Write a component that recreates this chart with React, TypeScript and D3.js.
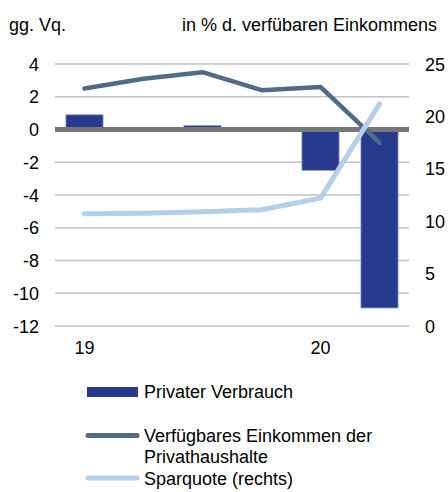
import React from "react";
import * as d3 from "d3";

const quarters = ["Q1 19", "Q2 19", "Q3 19", "Q4 19", "Q1 20", "Q2 20"];
const xLabels = ["19", "", "", "", "20", ""];
const konsum = [0.9, 0, 0.25, 0, -2.5, -10.9];
const einkommen = [2.5, 3.1, 3.5, 2.4, 2.6, -0.8];
const sparquote = [10.7, 10.75, 10.9, 11.1, 12.2, 21.2];
const leftTicks = [4, 2, 0, -2, -4, -6, -8, -10, -12];
const rightTicks = [25, 20, 15, 10, 5, 0];

const W = 448, H = 492;
const font = "'Liberation Sans', Arial, sans-serif";
const FS = 18;

export default function App() {
  const x = d3.scaleBand<string>().domain(quarters).range([55, 409]).paddingInner(0.37).paddingOuter(0.185);
  const yL = d3.scaleLinear().domain([-12, 4]).range([326, 64]);
  const yR = d3.scaleLinear().domain([0, 25]).range([326, 64]);
  const cx = (q: string) => (x(q) as number) + x.bandwidth() / 2;
  const lineL = d3.line<number>().x((_, i) => cx(quarters[i])).y((d) => yL(d));
  const lineR = d3.line<number>().x((_, i) => cx(quarters[i])).y((d) => yR(d));
  return (
    <svg width={W} height={H} style={{ position: "absolute", left: 0, top: 0 }} fontFamily={font}>
      <rect width={W} height={H} fill="#fff" />
      <text x={9} y={31} fontSize={FS} fill="#000">gg. Vq.</text>
      <text x={182} y={31} fontSize={FS} fill="#000">in % d. verfübaren Einkommens</text>
      {leftTicks.map((t) => (
        <g key={"l" + t}>
          {t !== 0 && <line x1={55} x2={409} y1={yL(t)} y2={yL(t)} stroke="#c4c4c4" strokeWidth={1.3} />}
          <text x={39} y={yL(t) + 6.5} fontSize={FS} textAnchor="end">{t}</text>
        </g>
      ))}
      {rightTicks.map((t) => (
        <text key={"r" + t} x={425} y={yR(t) + 6.5} fontSize={FS}>{t}</text>
      ))}
      {quarters.map((q, i) =>
        konsum[i] !== 0 ? (
          <rect key={q} x={x(q)} width={x.bandwidth()}
            y={Math.min(yL(0), yL(konsum[i]))}
            height={Math.abs(yL(konsum[i]) - yL(0))}
            fill="#283a8e" stroke="#8fa3d6" strokeWidth={0.8} />
        ) : null
      )}
      <line x1={55} x2={409} y1={yL(0)} y2={yL(0)} stroke="#777" strokeWidth={5} />
      <path d={lineL(einkommen) || ""} fill="none" stroke="#516a86" strokeWidth={4.5} strokeLinecap="round" strokeLinejoin="round" />
      <path d={lineR(sparquote) || ""} fill="none" stroke="#b3cfea" strokeWidth={5} strokeLinecap="round" strokeLinejoin="round" />
      {quarters.map((q, i) => xLabels[i] ? (
        <text key={"x" + q} x={cx(q)} y={354} fontSize={FS} textAnchor="middle">{xLabels[i]}</text>
      ) : null)}
      <rect x={87} y={387} width={51} height={10} fill="#283a8e" />
      <text x={144} y={398} fontSize={FS}>Privater Verbrauch</text>
      <line x1={88} x2={137} y1={435.5} y2={435.5} stroke="#516a86" strokeWidth={5} strokeLinecap="round" />
      <text x={144} y={442} fontSize={FS}>Verfügbares Einkommen der</text>
      <text x={144} y={463} fontSize={FS}>Privathaushalte</text>
      <line x1={88} x2={137} y1={478} y2={478} stroke="#b3cfea" strokeWidth={5} strokeLinecap="round" />
      <text x={144} y={485} fontSize={FS}>Sparquote (rechts)</text>
    </svg>
  );
}
